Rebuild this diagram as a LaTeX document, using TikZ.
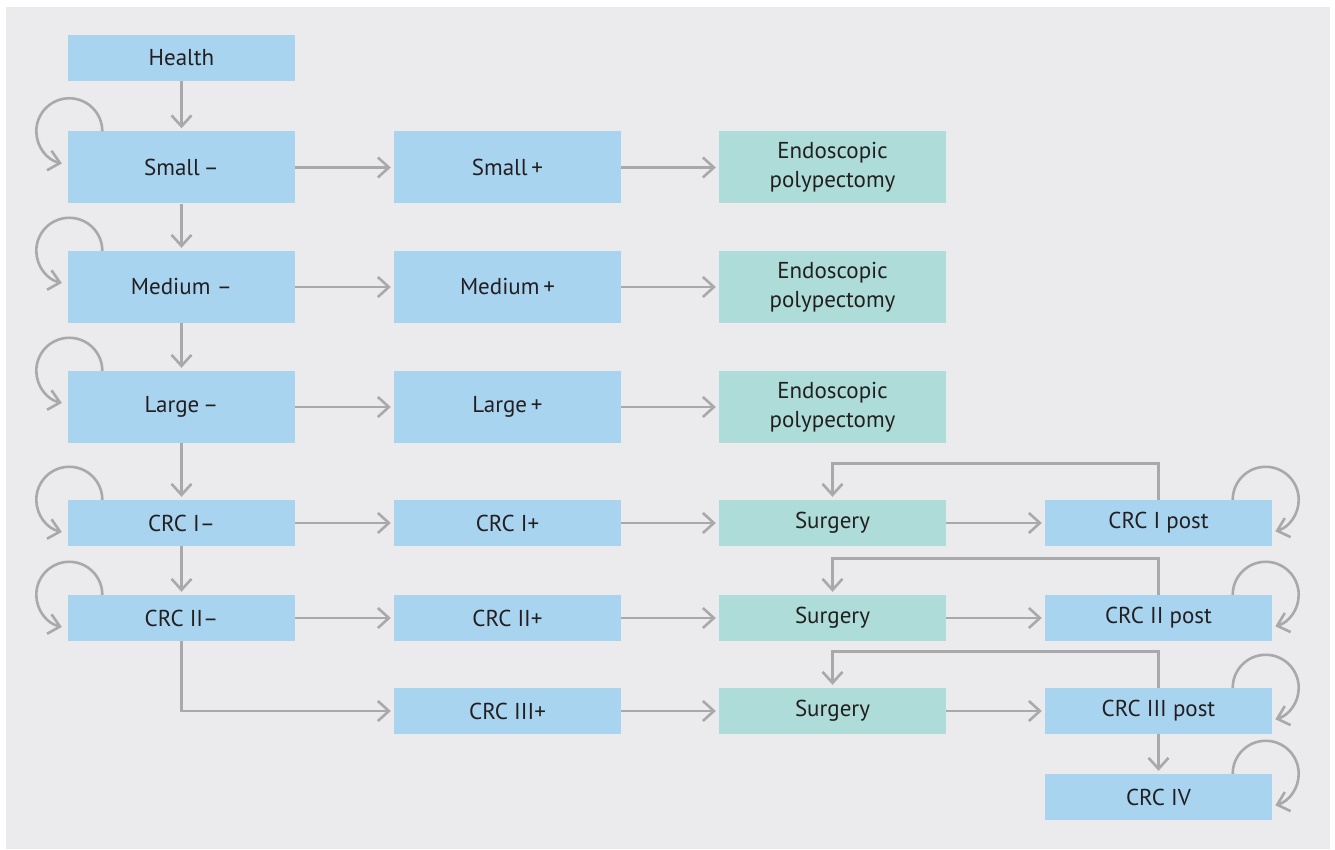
\documentclass[tikz,border=0pt]{standalone}
\usepackage{fontspec}
\setmainfont{PT Sans}
\usetikzlibrary{arrows.meta,positioning}
\definecolor{panelgray}{HTML}{EBEBED}
\definecolor{boxblue}{HTML}{A8D4F0}
\definecolor{boxgreen}{HTML}{AEDDD9}
\definecolor{linegray}{HTML}{A9A9AB}
\definecolor{textdark}{HTML}{231F20}
\tikzset{>={Straight Barb[length=11pt,width=20pt]}}
\tikzset{
  stbox/.style={fill=boxblue,minimum width=227pt,minimum height=46pt,
    inner sep=0pt,text=textdark,align=center},
  tall/.style={minimum height=72pt},
  txbox/.style={stbox,fill=boxgreen},
  flow/.style={->,draw=linegray,line width=2.6pt,shorten >=3pt},
  loop/.style={->,draw=linegray,line width=2.6pt}
}
\newcommand*{\lloop}[1]{\draw[loop] ([xshift=34.5pt]#1.north west)
  arc[start angle=0,end angle=257,radius=33];}
\newcommand*{\rloop}[1]{\draw[loop] ([xshift=-39.5pt]#1.north east)
  arc[start angle=180,end angle=-73,radius=33];}

\begin{document}
\begin{tikzpicture}[x=1pt,y=1pt,font=\fontsize{23pt}{29pt}\selectfont]
\useasboundingbox (0,0) rectangle (1335,850);
\fill[panelgray] (6,1) rectangle (1330,843);
\node[stbox] (health) at (181.5,792) {Health};
\node[stbox,tall] (smallneg) at (181.5,682.5) {Small\,–};
\node[stbox,tall] (smallpos) at (507.5,682.5) {Small\,+};
\node[txbox,tall] (endo1) at (832.5,682.5) {Endoscopic\\polypectomy};
\node[stbox,tall] (medneg) at (181.5,563) {Medium\;–};
\node[stbox,tall] (medpos) at (507.5,563) {Medium\,+};
\node[txbox,tall] (endo2) at (832.5,563) {Endoscopic\\polypectomy};
\node[stbox,tall] (largeneg) at (181.5,443) {Large\,–};
\node[stbox,tall] (largepos) at (507.5,443) {Large\,+};
\node[txbox,tall] (endo3) at (832.5,443) {Endoscopic\\polypectomy};
\node[stbox] (crc1neg) at (181.5,327) {CRC I–};
\node[stbox] (crc1pos) at (507.5,327) {CRC I+};
\node[txbox] (surg1) at (832.5,327) {Surgery};
\node[stbox] (crc1post) at (1158.5,327) {CRC I post};
\node[stbox] (crc2neg) at (181.5,232) {CRC II–};
\node[stbox] (crc2pos) at (507.5,232) {CRC II+};
\node[txbox] (surg2) at (832.5,232) {Surgery};
\node[stbox] (crc2post) at (1158.5,232) {CRC II post};
\node[stbox] (crc3pos) at (507.5,139) {CRC III+};
\node[txbox] (surg3) at (832.5,139) {Surgery};
\node[stbox] (crc3post) at (1158.5,139) {CRC III post};
\node[stbox] (crc4) at (1158.5,53) {CRC IV};
\draw[flow] (health) -- (smallneg);
\draw[flow] (smallneg) -- (medneg);
\draw[flow] (medneg) -- (largeneg);
\draw[flow] (largeneg) -- (crc1neg);
\draw[flow] (crc1neg) -- (crc2neg);
\draw[flow] (crc3post) -- (crc4);
\draw[flow] (smallneg) -- (smallpos);
\draw[flow] (smallpos) -- (endo1);
\draw[flow] (medneg) -- (medpos);
\draw[flow] (medpos) -- (endo2);
\draw[flow] (largeneg) -- (largepos);
\draw[flow] (largepos) -- (endo3);
\draw[flow] (crc1neg) -- (crc1pos);
\draw[flow] (crc1pos) -- (surg1);
\draw[flow] (surg1) -- (crc1post);
\draw[flow] (crc2neg) -- (crc2pos);
\draw[flow] (crc2pos) -- (surg2);
\draw[flow] (surg2) -- (crc2post);
\draw[flow] (crc2neg.south) |- (crc3pos.west);
\draw[flow] (crc3pos) -- (surg3);
\draw[flow] (surg3) -- (crc3post);
\draw[flow] (crc1post.north) -- ++(0,36) -| (surg1.north);
\draw[flow] (crc2post.north) -- ++(0,36) -| (surg2.north);
\draw[flow] (crc3post.north) -- ++(0,36) -| (surg3.north);
\lloop{smallneg}
\lloop{medneg}
\lloop{largeneg}
\lloop{crc1neg}
\lloop{crc2neg}
\rloop{crc1post}
\rloop{crc2post}
\rloop{crc3post}
\rloop{crc4}
\end{tikzpicture}
\end{document}
